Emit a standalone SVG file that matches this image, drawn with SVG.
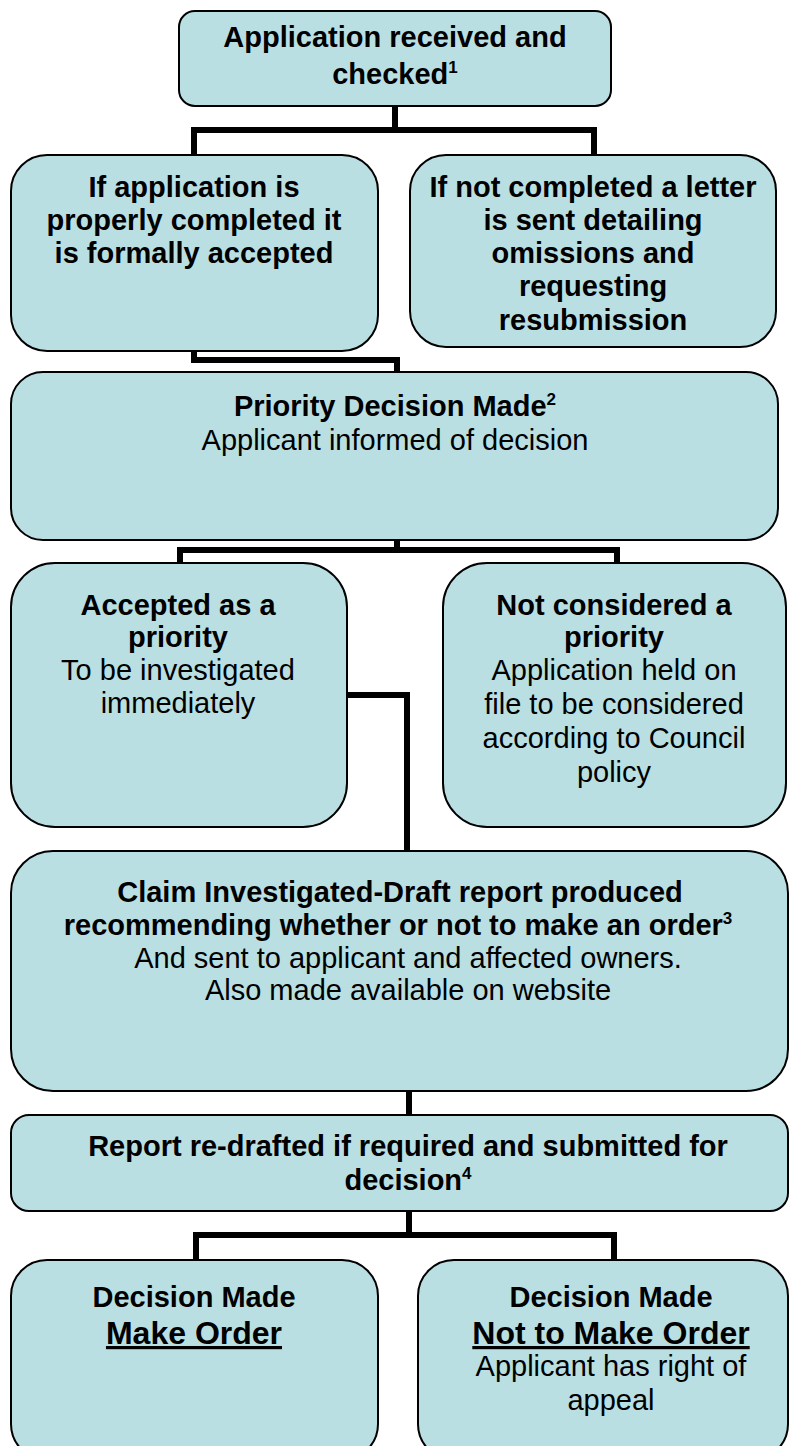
<svg xmlns="http://www.w3.org/2000/svg" width="789" height="1446" viewBox="0 0 789 1446">
<style>
.box{fill:#BADFE3;stroke:#000;stroke-width:2}
.conn{fill:none;stroke:#000;stroke-width:6;stroke-linejoin:miter;stroke-linecap:butt}
text{font-family:"Liberation Sans",Arial,sans-serif;font-size:29px;fill:#000;text-anchor:middle}
.b{font-weight:bold}
.sup{font-size:17px;font-weight:bold}
.big{font-size:32px;font-weight:bold;text-decoration:underline}
</style>
<rect width="789" height="1446" fill="#fff"/>
<g id="connectors">
<path class="conn" d="M395,106 V130 M194,155 V130 H594 V155"/>
<path class="conn" d="M194,351 V360 H397 V372"/>
<path class="conn" d="M397,540 V550 H180 V563 M397,550 H617 V563"/>
<path class="conn" d="M347,695 H407 V851"/>
<path class="conn" d="M409,1091 V1115"/>
<path class="conn" d="M409,1211 V1235 H196 V1260 M409,1235 H614 V1260"/>
</g>
<g id="n1">
<rect class="box" x="179" y="11" width="432" height="95" rx="16"/>
<text class="b" x="395" y="47">Application received and</text>
<text class="b" x="395" y="84">checked<tspan class="sup" dy="-11">1</tspan></text>
</g>
<g id="n2">
<rect class="box" x="11" y="155" width="367" height="196" rx="36"/>
<text class="b" x="194" y="197">If application is</text>
<text class="b" x="194" y="230">properly completed it</text>
<text class="b" x="194" y="263">is formally accepted</text>
</g>
<g id="n3">
<rect class="box" x="410" y="155" width="366" height="192" rx="36"/>
<text class="b" x="593" y="197">If not completed a letter</text>
<text class="b" x="593" y="230">is sent detailing</text>
<text class="b" x="593" y="263">omissions and</text>
<text class="b" x="593" y="296">requesting</text>
<text class="b" x="593" y="330">resubmission</text>
</g>
<g id="n4">
<rect class="box" x="11" y="372" width="767" height="168" rx="32"/>
<text class="b" x="395" y="416">Priority Decision Made<tspan class="sup" dy="-11">2</tspan></text>
<text x="395" y="450">Applicant informed of decision</text>
</g>
<g id="n5">
<rect class="box" x="11" y="563" width="336" height="264" rx="44"/>
<text class="b" x="178" y="615">Accepted as a</text>
<text class="b" x="178" y="647">priority</text>
<text x="178" y="680">To be investigated</text>
<text x="178" y="713">immediately</text>
</g>
<g id="n6">
<rect class="box" x="443" y="563" width="343" height="264" rx="44"/>
<text class="b" x="614" y="615">Not considered a</text>
<text class="b" x="614" y="647">priority</text>
<text x="614" y="680">Application held on</text>
<text x="614" y="714">file to be considered</text>
<text x="614" y="748">according to Council</text>
<text x="614" y="782">policy</text>
</g>
<g id="n7">
<rect class="box" x="11" y="851" width="777" height="240" rx="42"/>
<text class="b" x="400" y="902">Claim Investigated-Draft report produced</text>
<text class="b" x="398" y="935">recommending whether or not to make an order<tspan class="sup" dy="-11">3</tspan></text>
<text x="408" y="968">And sent to applicant and affected owners.</text>
<text x="408" y="1000">Also made available on website</text>
</g>
<g id="n8">
<rect class="box" x="11" y="1115" width="777" height="96" rx="18"/>
<text class="b" x="408" y="1156">Report re-drafted if required and submitted for</text>
<text class="b" x="408" y="1190">decision<tspan class="sup" dy="-11">4</tspan></text>
</g>
<g id="n9">
<rect class="box" x="11" y="1260" width="367" height="200" rx="36"/>
<text class="b" x="194" y="1307">Decision Made</text>
<text class="big" x="194" y="1344">Make Order</text>
</g>
<g id="n10">
<rect class="box" x="418" y="1260" width="370" height="200" rx="36"/>
<text class="b" x="611" y="1307">Decision Made</text>
<text class="big" x="611" y="1344">Not to Make Order</text>
<text x="611" y="1376">Applicant has right of</text>
<text x="611" y="1410">appeal</text>
</g>
</svg>
